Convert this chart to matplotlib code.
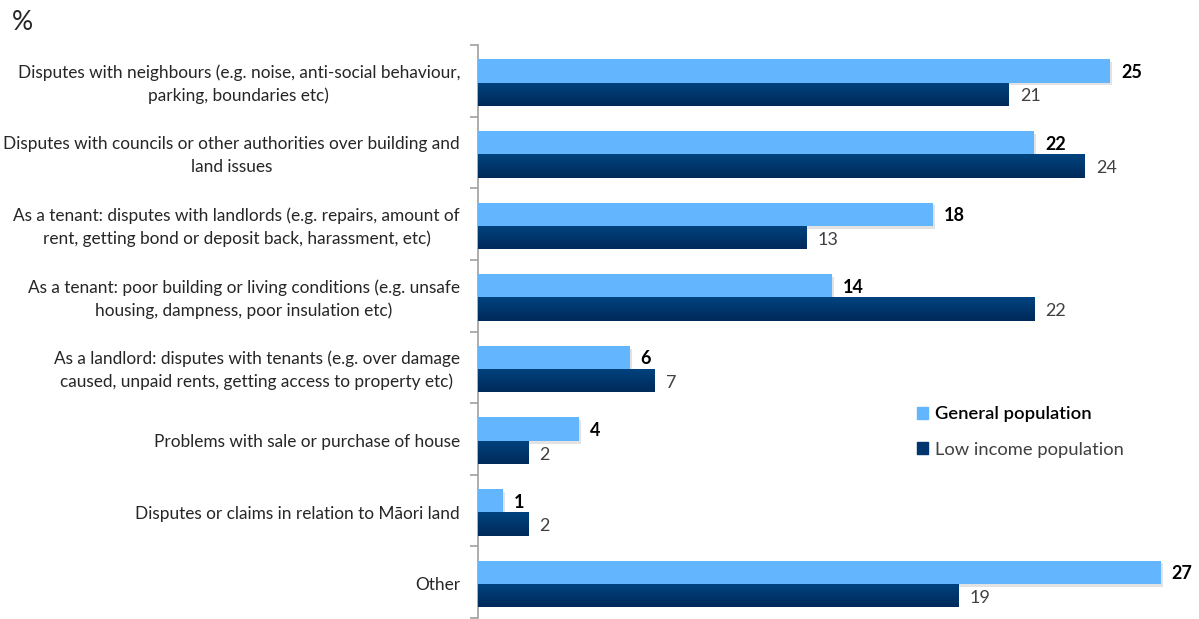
import numpy as np
import matplotlib
matplotlib.use("Agg")
import matplotlib.pyplot as plt
from matplotlib import patheffects as pe
from matplotlib.colors import LinearSegmentedColormap
from matplotlib.patches import Patch

categories = [
    "Disputes with neighbours (e.g. noise, anti-social behaviour,\nparking, boundaries etc)",
    "Disputes with councils or other authorities over building and\nland issues",
    "As a tenant: disputes with landlords (e.g. repairs, amount of\nrent, getting bond or deposit back, harassment, etc)",
    "As a tenant: poor building or living conditions (e.g. unsafe\nhousing, dampness, poor insulation etc)",
    "As a landlord: disputes with tenants (e.g. over damage\ncaused, unpaid rents, getting access to property etc)",
    "Problems with sale or purchase of house",
    "Disputes or claims in relation to Māori land",
    "Other",
]
general = [25, 22, 18, 14, 6, 4, 1, 27]
low_income = [21, 24, 13, 22, 7, 2, 2, 19]
series_names = ["General population", "Low income population"]

plt.rcParams["font.family"] = ["Lato", "DejaVu Sans"]

W, H = 1199, 619
fig = plt.figure(figsize=(W / 100, H / 100), dpi=100)
ax = fig.add_axes([478 / W, 1 / H, 1 - 478 / W, 573 / H])

light = "#63b5fd"
dark_cmap = LinearSegmentedColormap.from_list("darkgrad", ["#00437f", "#002a5a"])

y = np.arange(len(categories)) + 0.025
h = 0.325
light_bars = ax.barh(y - h / 2, general, height=h, color=light, zorder=3)
for b in light_bars:
    b.set_path_effects([pe.SimplePatchShadow(offset=(1.5, -2), alpha=0.15, shadow_rgbFace="#404040"), pe.Normal()])
dark_bars = ax.barh(y + h / 2, low_income, height=h, color="#003570", zorder=3)

# vertical gradient on the dark bars
grad = np.linspace(0, 1, 64).reshape(-1, 1)
for b in dark_bars:
    x0, y0 = b.get_x(), b.get_y()
    im = ax.imshow(grad, cmap=dark_cmap, aspect="auto",
                   extent=(x0, x0 + b.get_width(), y0 + b.get_height(), y0),
                   zorder=4, interpolation="bilinear")
    im.set_clip_path(b)

px = 25.28  # pixels per unit
off = 11 / px
for yi, v in zip(y, general):
    ax.text(v + off, yi - h / 2 + 0.02, str(v), va="center", ha="left",
            fontsize=13, fontweight="bold", color="black", zorder=5)
for yi, v in zip(y, low_income):
    ax.text(v + off, yi + h / 2 + 0.03, str(v), va="center", ha="left",
            fontsize=13, color="#404040", zorder=5)

ax.set_xlim(0, (W - 478) / px)
ax.set_ylim(len(categories) - 0.5, -0.5)

for s in ["top", "right", "bottom"]:
    ax.spines[s].set_visible(False)
ax.spines["left"].set_color("#a0a0a0")
ax.spines["left"].set_linewidth(1.2)
ax.set_xticks([])
ax.set_yticks(np.arange(-0.5, len(categories) + 0.5, 1))
ax.set_yticklabels([])
ax.tick_params(axis="y", length=6, width=1.2, color="#a0a0a0", direction="out")

for yi, lab in zip(y, categories):
    ax.text(-18 / px, yi + 0.02, lab, ha="right", va="center", multialignment="center",
            fontsize=12.4, color="#262626", linespacing=1.5)

fig.text(12 / W, 1 - 22 / H, "%", fontsize=19, color="#262626", va="center", ha="left")

handles = [Patch(color=light), Patch(color="#003570")]
leg = ax.legend(handles, series_names, loc="upper left",
                bbox_to_anchor=((900 - 478) / (W - 478), (618 - 390) / 573),
                frameon=False, fontsize=13.2, handlelength=0.6, handleheight=0.6,
                handletextpad=0.4, labelspacing=1.05)
texts = leg.get_texts()
texts[0].set_color("black")
texts[0].set_fontweight("semibold")
texts[1].set_color("#404040")

fig.savefig("out.png", dpi=100)
